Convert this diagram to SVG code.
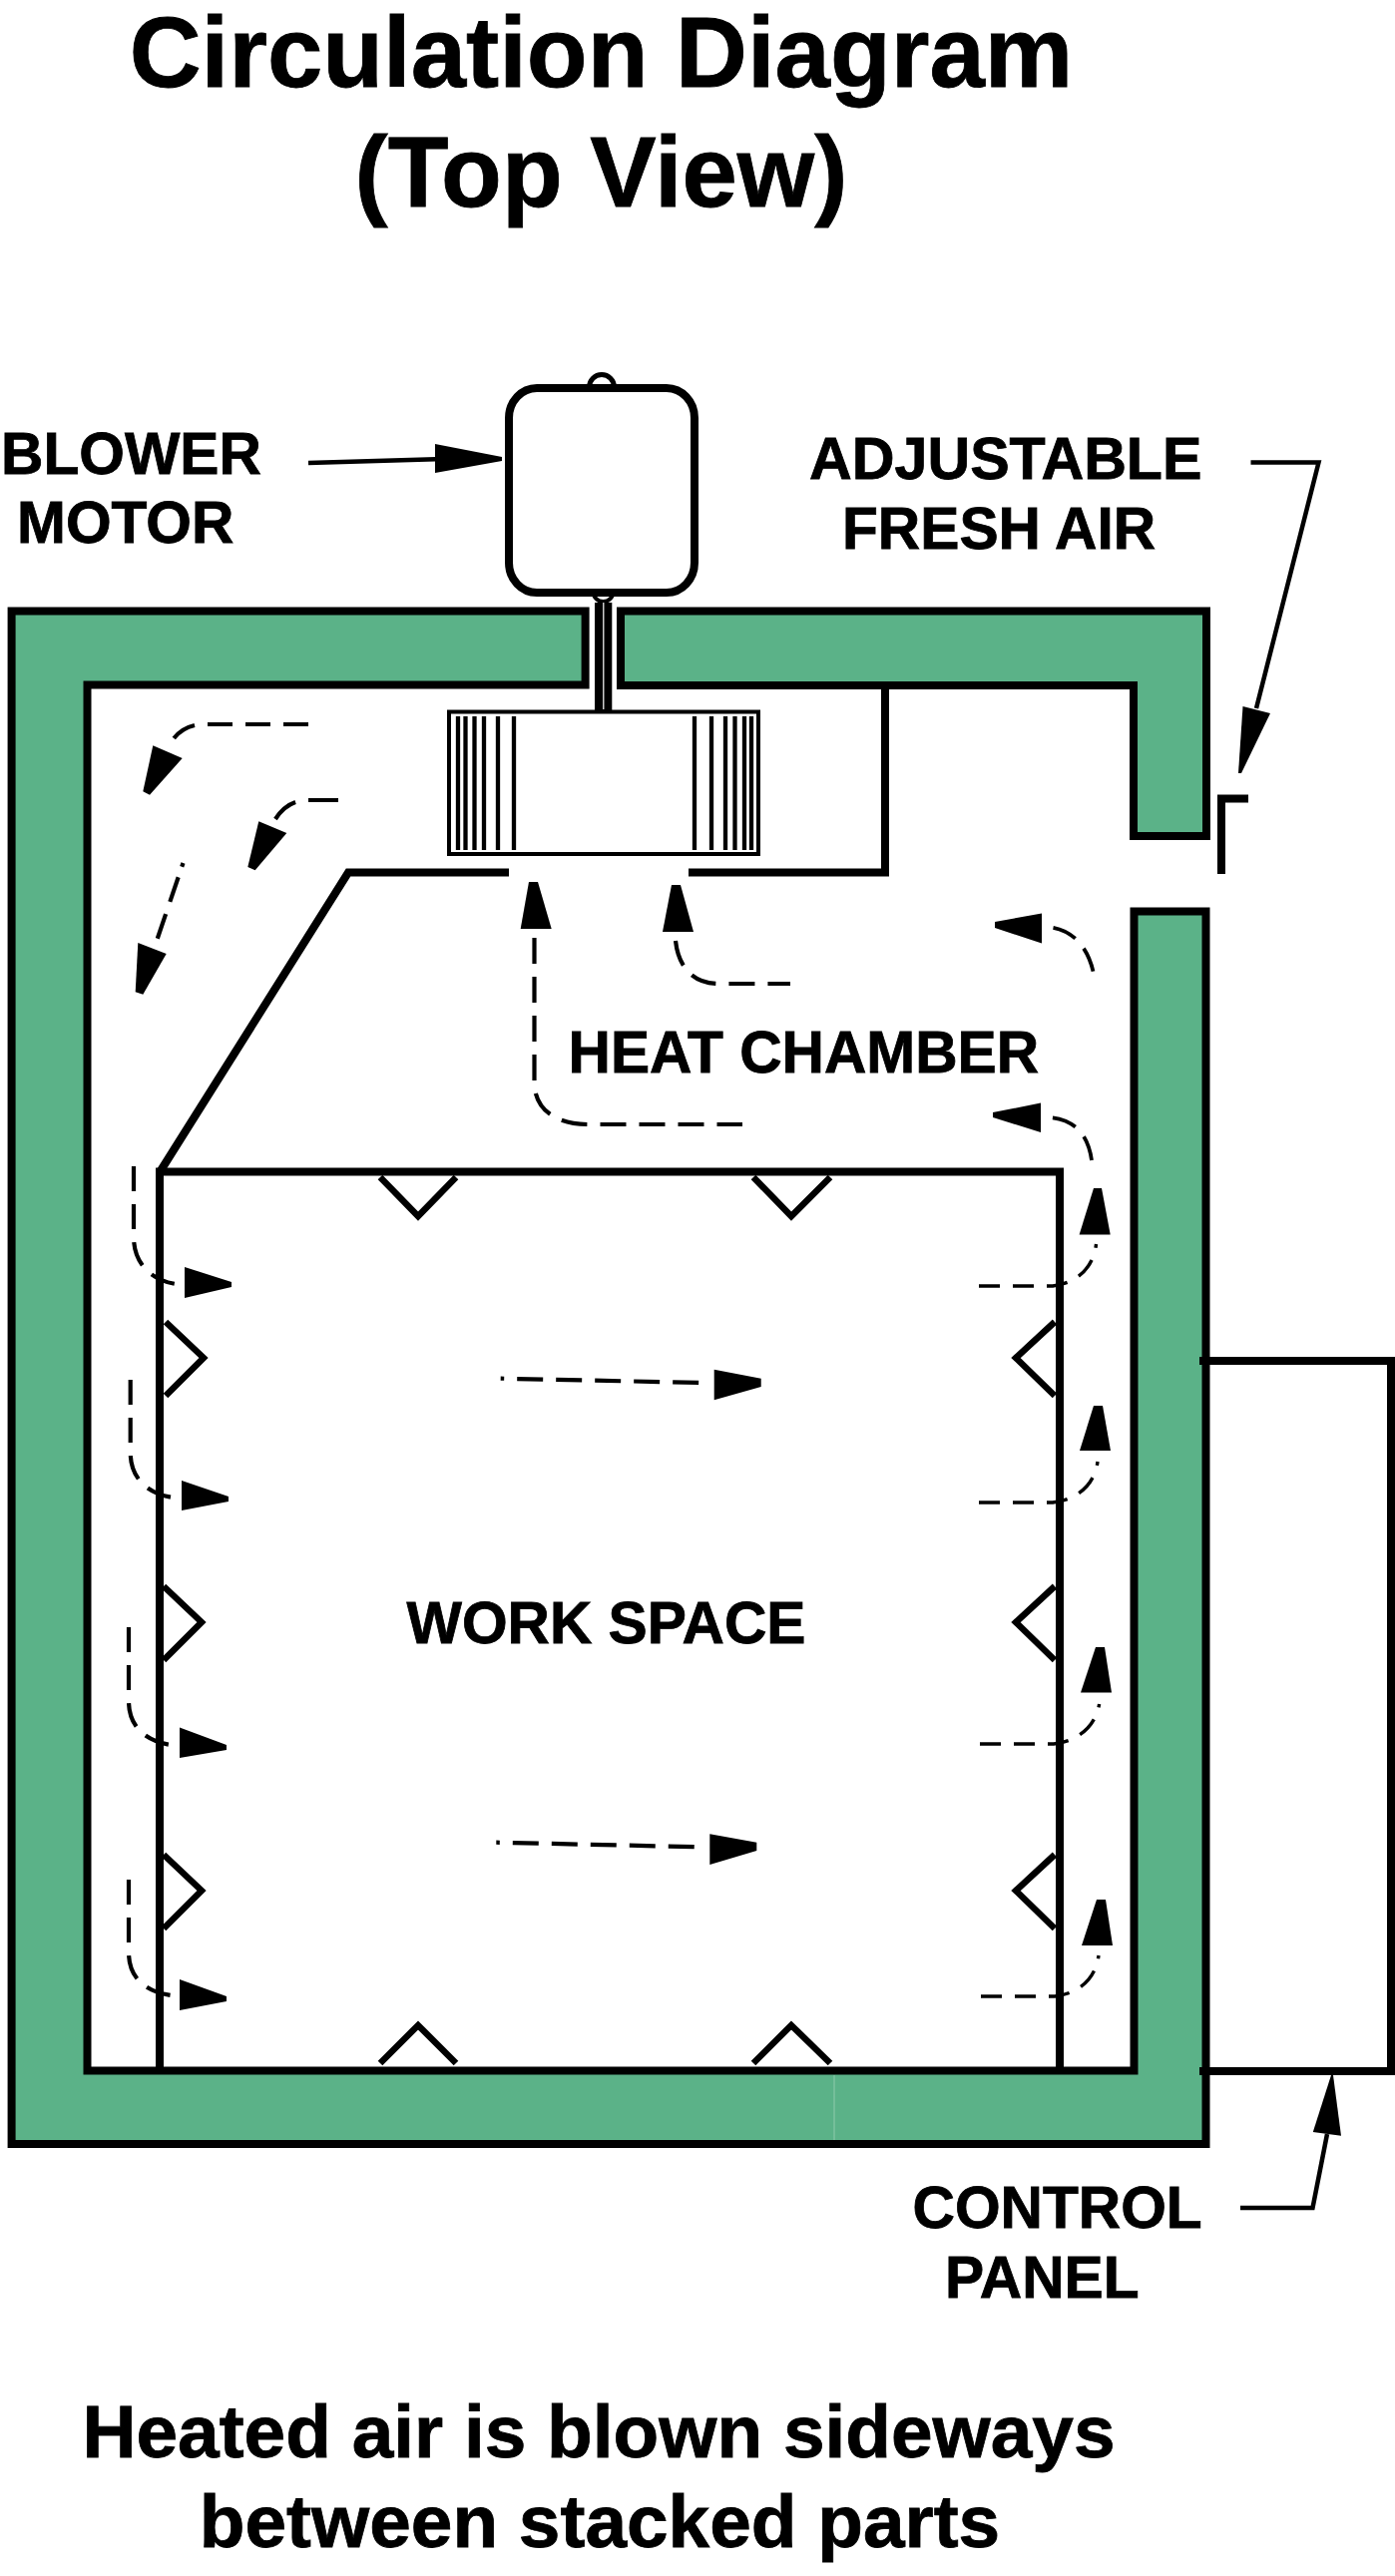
<svg xmlns="http://www.w3.org/2000/svg" width="1398" height="2582" viewBox="0 0 1398 2582">
<style>
text{font-family:"Liberation Sans",Arial,sans-serif;font-weight:700;fill:#000;stroke:#000;stroke-width:.8}
.lab{font-size:58.7px}
.ttl{font-size:99.5px;text-anchor:middle}
.cap{font-size:74.8px;text-anchor:middle}
.wall{fill:#5bb288;stroke:#000;stroke-width:8;stroke-linejoin:miter}
.ln{fill:none;stroke:#000;stroke-width:8;stroke-linejoin:miter}
.chev{fill:none;stroke:#000;stroke-width:6.5;stroke-linejoin:miter}
.bar{stroke:#000;stroke-width:4.3}
.lead{fill:none;stroke:#000;stroke-width:4.5;stroke-linejoin:miter}
.fl{fill:none;stroke:#000;stroke-width:4.2;stroke-dasharray:25 13}
.fr{fill:none;stroke:#000;stroke-width:3.4;stroke-dasharray:21 13}
.fm{fill:none;stroke:#000;stroke-width:4.2;stroke-dasharray:26 13;stroke-dashoffset:22.5}
</style>
<rect width="1398" height="2582" fill="#fff"/>
<text class="ttl" x="602.5" y="86.5">Circulation Diagram</text>
<text class="ttl" x="602.5" y="206.5">(Top View)</text>

<g id="enclosure">
<path class="wall" d="M586.6 612.5H11.6V2149H1208.5V913.5H1136.5V2075.5H87.5V686.5H586.6Z"/>
<path class="wall" d="M622 612.5H1209V838H1136V687H622Z"/>
<path d="M836 2080V2145" stroke="#8fcbac" stroke-width="1" fill="none"/>
</g>

<g id="heat-chamber">
<path class="ln" d="M510 874.5H349L160 1175"/>
<path class="ln" d="M690 874.5H887V686"/>
<text class="lab" x="569.5" y="1074.5">HEAT CHAMBER</text>
</g>

<g id="work-space">
<path class="ln" d="M160 2076V1174.5H1062V2076"/>
<path class="chev" d="M381 1180L419 1219L457 1180M755 1180L793 1219L832 1180"/>
<path class="chev" d="M381 2068L419 2030L457 2068M755 2068L793 2030L832 2068"/>
<path class="chev" d="M166 1325L204 1361L166 1399M164 1590L202 1626L164 1664M164 1859L202 1895L164 1933"/>
<path class="chev" d="M1057 1325L1018 1361L1057 1399M1057 1590L1018 1626L1057 1664M1057 1859L1018 1895L1057 1933"/>
<text class="lab" x="407.5" y="1647">WORK SPACE</text>
</g>

<g id="blower-motor">
<circle cx="603" cy="388" r="12.5" fill="#fff" stroke="#000" stroke-width="5"/>
<circle cx="604.5" cy="593" r="10" fill="#fff" stroke="#000" stroke-width="4"/>
<rect x="596" y="604" width="17.3" height="109" fill="#000"/>
<rect x="604" y="604" width="1.5" height="107" fill="#ccc"/>
<rect x="510" y="389" width="186" height="205" rx="28" ry="30" fill="#fff" stroke="#000" stroke-width="8"/>
<text class="lab" x="1" y="475">BLOWER</text>
<text class="lab" x="17" y="544">MOTOR</text>
</g>

<g id="blower-fan">
<rect x="450" y="713.5" width="310" height="142.5" fill="#fff" stroke="#000" stroke-width="4"/>
<path class="bar" d="M459 718V852M466.5 718V852M475.5 718V852M485 718V852M499 718V852M515 718V852M696 718V852M713 718V852M727 718V852M736.5 718V852M746 718V852M753 718V852"/>
</g>

<g id="fresh-air-damper">
<path class="ln" d="M1224 876V800.5H1251"/>
<text class="lab" x="811" y="479.5" style="font-size:59.2px">ADJUSTABLE</text>
<text class="lab" x="844" y="549.5">FRESH AIR</text>
</g>

<g id="control-panel">
<path class="ln" d="M1202 1364H1394V2076H1202"/>
<text class="lab" x="914.5" y="2232.5">CONTROL</text>
<text class="lab" x="947" y="2302.5">PANEL</text>
</g>

<g id="connectors">
<path class="lead" d="M309 464L445 460"/>
<polygon points="436,445 503,458 503,462 436,474"/>
<path class="lead" d="M1253.5 463.5H1321.5L1259 710"/>
<polygon points="1245.5,708 1273,715 1244,775 1241,775"/>
<path class="lead" d="M1243 2213H1315.5L1330 2139"/>
<polygon points="1315.8,2137 1334,2080 1336,2080 1344,2140.7"/>

<path class="fl" d="M309 726H204C190 726 178 733 171.5 744"/>
<polygon points="153.3,747.3 182.7,760 150,796.7 143.3,793.3"/>
<path class="fl" style="stroke-dasharray:30 13" d="M339 802H309C293 802 283 810 276 821"/>
<polygon points="259.3,823.3 287.3,835 255.7,872.3 248.3,869"/>
<path class="fl" style="stroke-dasharray:4 11 26 13 26" d="M183.5 865L157 943"/>
<polygon points="138.3,945 166.7,956 143.3,996.7 135.7,994.3"/>

<path class="fl" style="stroke-dasharray:26 13" d="M535.5 940V1085C535.5 1108 552 1127 590 1127H744"/>
<polygon points="521.7,931 530,884 539,884 552.7,931"/>
<path class="fl" style="stroke-dasharray:26 13" d="M677 943C680 970 695 986 720 986H792"/>
<polygon points="664,934 673,887 682,887 695,934"/>

<path class="fr" style="stroke-width:3.8;stroke-dasharray:25 13" d="M1095.5 973.6C1090 950 1076 933 1054 929.5"/>
<polygon points="1044,915.6 997,924 997,930 1044,945.5"/>
<path class="fr" style="stroke-width:3.8;stroke-dasharray:25 13" d="M1094 1163C1090 1135 1075 1122 1052 1120"/>
<polygon points="1043,1105.6 995,1115 995,1120 1043,1135"/>

<path class="fl" d="M134 1169V1240C134 1265 150 1283 176 1287"/>
<polygon points="185,1270 232,1285 232,1290 185,1301"/>
<path class="fl" d="M130.7 1383V1456C130.7 1481 147 1497 173 1501"/>
<polygon points="182,1484 229,1500 229,1505 182,1514"/>
<path class="fl" d="M129 1631V1705C129 1730 145 1745 171 1749"/>
<polygon points="180,1731.6 227,1749 227,1754 180,1762"/>
<path class="fl" d="M129 1884V1957C129 1982 145 1996 171 2000"/>
<polygon points="180,1984 227,2001 227,2006 180,2015"/>

<path class="fr" d="M981 1289H1055C1080 1286 1096 1270 1098.5 1247"/>
<polygon points="1081.6,1237.5 1096,1191 1104,1191 1112.7,1237.5"/>
<path class="fr" d="M981 1506H1055C1080 1503 1097 1488 1100 1465"/>
<polygon points="1082,1454 1096,1409 1105,1409 1113,1454"/>
<path class="fr" d="M982 1748H1056C1081 1745 1098 1730 1101.6 1708"/>
<polygon points="1083,1696.5 1098,1651 1107,1651 1114,1696.5"/>
<path class="fr" d="M983 2001H1057C1082 1998 1098 1983 1101 1960"/>
<polygon points="1084,1950 1099,1904 1108,1904 1115,1950"/>

<path class="fm" d="M501.7 1381.7L706.7 1386"/>
<polygon points="715.7,1372.7 762.7,1381.7 762.7,1390 715.7,1403.3"/>
<path class="fm" d="M497.3 1846.7L702.3 1851.3"/>
<polygon points="711.3,1838.3 758.3,1846.7 758.3,1855 711.3,1869"/>
</g>

<text class="cap" x="600" y="2462.5">Heated air is blown sideways</text>
<text class="cap" x="601" y="2552.5">between stacked parts</text>
</svg>
